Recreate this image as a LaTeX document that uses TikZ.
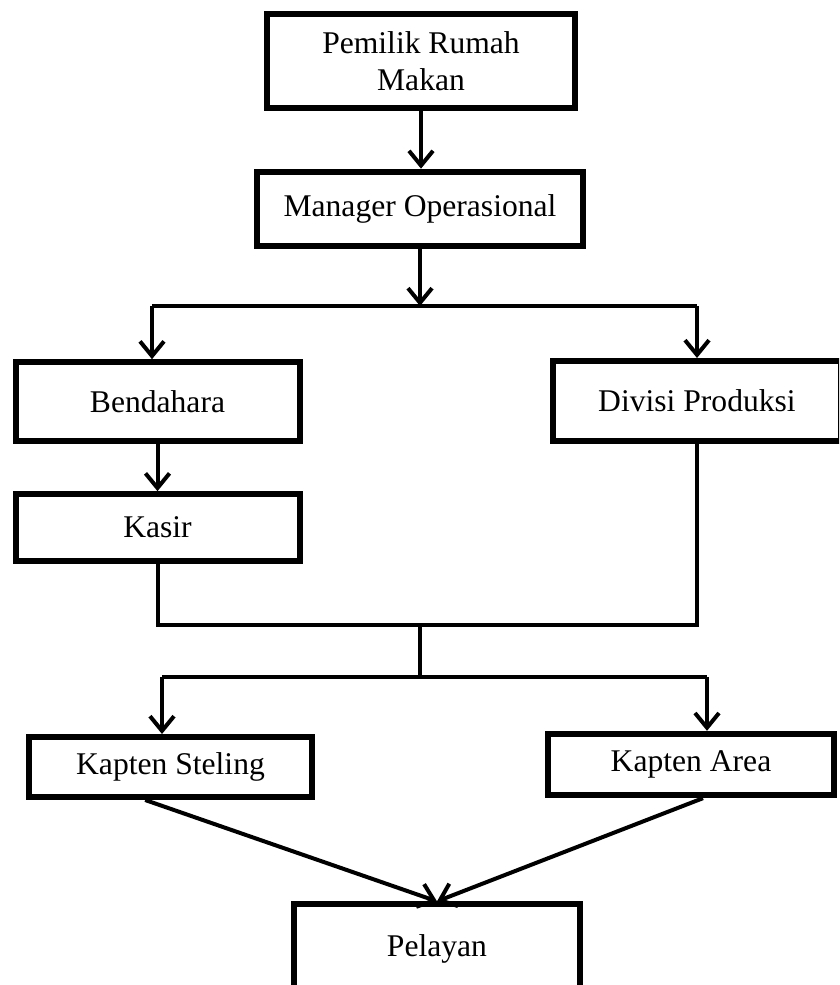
\documentclass[tikz,border=0pt]{standalone}
\usepackage{
	fontspec,			% Fonts
	tikz
}
\setmainfont{Liberation Serif}
\usetikzlibrary{arrows.meta,positioning}

\begin{document}
\begin{tikzpicture}[x=0.75pt,y=-0.75pt,
		box/.style={draw,line width=4.5pt,inner sep=0pt,align=center,
			font=\fontsize{23.7}{27.8}\selectfont},
		link/.style={line width=3pt},
		arr/.style={link,-{Straight Barb[length=11pt,width=18pt]}}]
			\clip (0,0) rectangle (839,985);
			\node[box,minimum width=231pt,minimum height=71pt] (pemilik) at (421,61) {Pemilik Rumah\\Makan};
			\node[box,minimum width=244pt,minimum height=56pt] (manager) at (420,209) {Manager Operasional};
			\node[box,minimum width=213pt,minimum height=59pt] (bendahara) at (157.5,401.5) {Bendahara};
			\node[box,minimum width=216pt,minimum height=60pt] (divisi) at (697,401) {Divisi Produksi};
			\node[box,minimum width=213pt,minimum height=50pt] (kasir) at (157.5,527.5) {Kasir};
			\node[box,minimum width=212pt,minimum height=45pt] (steling) at (170.5,767) {Kapten Steling};
			\node[box,minimum width=214pt,minimum height=46pt] (area) at (691,764.5) {Kapten Area};
			\node[box,minimum width=214pt,minimum height=67pt] (pelayan) at (437,949) {Pelayan};
			\coordinate (split) at (420,306);
			\coordinate (splitl) at (152,306);
			\coordinate (splitr) at (697,306);
			\coordinate (join) at (420,625);
			\coordinate (branch) at (420,677);
			\coordinate (branchl) at (162,677);
			\coordinate (branchr) at (707,677);
			\draw[arr] (pemilik.south) -- (pemilik.south |- manager.north);
			\draw[arr] (manager.south) -- (split);
			\draw[link] (splitl) -- (splitr);
			\draw[arr] (splitl) -- (splitl |- bendahara.north);
			\draw[arr] (splitr) -- (splitr |- divisi.north);
			\draw[arr] (bendahara.south) -- (kasir.north);
			\draw[link] (kasir.south) |- (join) -| (divisi.south);
			\draw[link] (join) -- (branch);
			\draw[link] (branchl) -- (branchr);
			\draw[arr] (branchl) -- (branchl |- steling.north);
			\draw[arr] (branchr) -- (branchr |- area.north);
			\draw[arr] ([xshift=-19pt]steling.south) -- (pelayan.north);
			\draw[arr] ([xshift=9pt]area.south) -- (pelayan.north);
		\end{tikzpicture}
\end{document}
